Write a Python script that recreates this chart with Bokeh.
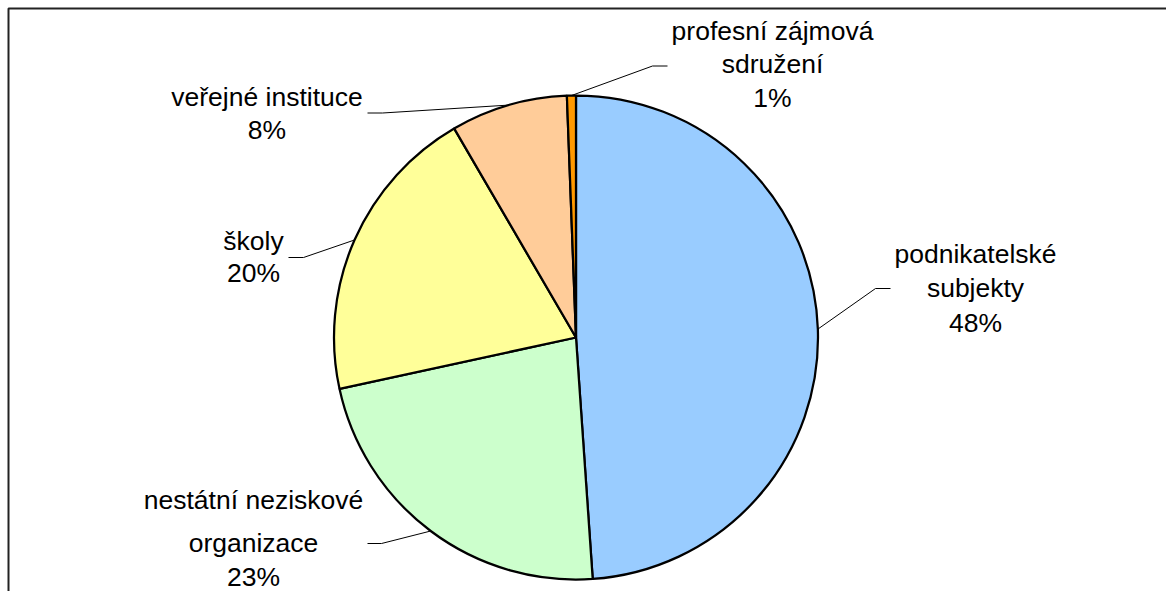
import math
from bokeh.plotting import figure
from bokeh.models import Range1d, ColumnDataSource
from bokeh.embed import file_html
from bokeh.resources import INLINE
from bokeh.core.properties import value

# ---- data ----
categories = ["podnikatelské subjekty", "nestátní neziskové organizace", "školy",
              "veřejné instituce", "profesní zájmová sdružení"]
shares = [48.9, 22.7, 20.0, 7.8, 0.6]
label_lines = [["podnikatelské", "subjekty", "48%"],
               ["nestátní neziskové", "organizace", "23%"],
               ["školy", "20%"],
               ["veřejné instituce", "8%"],
               ["profesní zájmová", "sdružení", "1%"]]
colors = ["#99CCFF", "#CCFFCC", "#FFFF99", "#FFCC99", "#FF9900"]

# ---- layout (pixel coords as seen in the picture) ----
W, H = 1166, 591
def X(px): return px
def Y(py): return H - py

CX, CY, R = 575.5, 337.0, 242.0
# label centre x, line baselines, leader horizontal end x, elbow x, leader y
layout = [
    (975, [253, 287.5, 322], 890, 875, 288),
    (253, [499, 542.5, 576], 367, 381, 543),
    (253, [240, 272], 288, 303, 257),
    (266.5, [96.5, 129], 367, 382, 112.5),
    (772, [30.5, 63.5, 97], 667, 652, 65.5),
]

p = figure(width=W, height=H, output_backend="svg", toolbar_location=None,
           x_range=Range1d(0, W), y_range=Range1d(0, H), min_border=0)
p.axis.visible = False
p.grid.visible = False
p.outline_line_color = None
p.background_fill_color = "white"
p.border_fill_color = "white"

total = sum(shares)
cum = 0.0
starts, ends, mids = [], [], []
for s in shares:
    a0 = math.pi / 2 - 2 * math.pi * cum / total
    cum += s
    a1 = math.pi / 2 - 2 * math.pi * cum / total
    starts.append(a0)
    ends.append(a1)
    mids.append((a0 + a1) / 2)

src = ColumnDataSource(dict(start=starts, end=ends, color=colors, cat=categories))
p.wedge(x=X(CX), y=Y(CY), radius=R, start_angle="start", end_angle="end",
        direction="clock", fill_color="color", line_color="black", line_width=2.25,
        source=src)

for i, (lx, lys, hx, ex, ly) in enumerate(layout):
    ang = mids[i]
    px = X(CX) + R * math.cos(ang)
    py = Y(CY) + R * math.sin(ang)
    p.line([X(hx), X(ex), px], [Y(ly), Y(ly), py], line_color="black", line_width=1)
    p.text(x=[X(lx)] * len(lys), y=[Y(v) for v in lys], text=label_lines[i],
           text_font=value("Liberation Sans"), text_font_size="26.5px",
           text_align="center", text_baseline="alphabetic", text_color="black")

# chart area border (left and top edges visible in the window)
p.line([X(8), X(8), W], [0, Y(8), Y(8)], line_color="#222222", line_width=2)

open("out.html", "w").write(file_html(p, INLINE))
